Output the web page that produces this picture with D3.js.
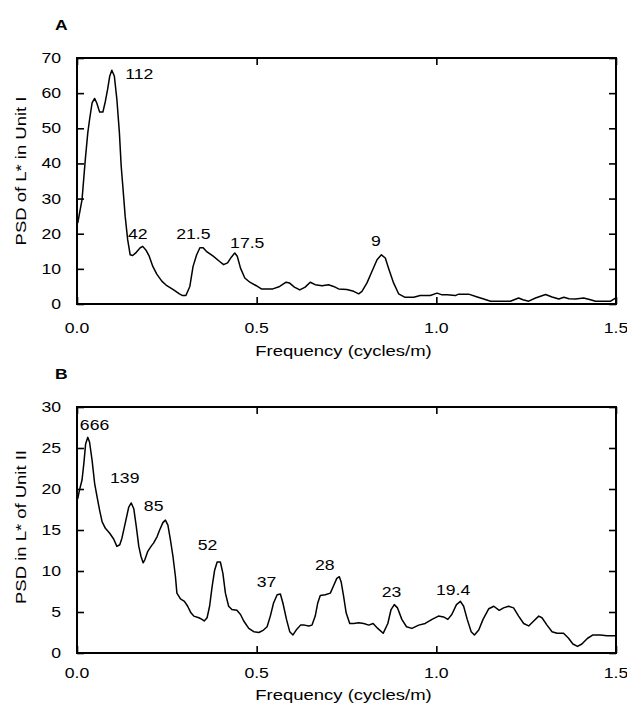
<!DOCTYPE html>
<html>
<head>
<meta charset="utf-8">
<script src="https://cdn.jsdelivr.net/npm/d3@7"></script>
<style>
  body { margin: 0; background: #fff; }
  svg { display: block; font-family: "Liberation Sans", Arial, sans-serif; }
</style>
</head>
<body>
<div id="chart"></div>
<script>
var width = 627;
var height = 705;

// Panel A - PSD of L* in Unit I
var freqA = [0.002, 0.014, 0.023, 0.030, 0.035, 0.042, 0.049, 0.055, 0.063, 0.072, 0.079, 0.085, 0.091, 0.097,
  0.104, 0.111, 0.118, 0.123, 0.129, 0.134, 0.141, 0.148, 0.155, 0.165, 0.176, 0.183, 0.192, 0.201, 0.211,
  0.222, 0.236, 0.250, 0.268, 0.285, 0.294, 0.303, 0.314, 0.323, 0.333, 0.342, 0.351, 0.360, 0.379, 0.397,
  0.408, 0.419, 0.430, 0.439, 0.446, 0.455, 0.467, 0.481, 0.499, 0.513, 0.545, 0.564, 0.582, 0.591, 0.605,
  0.620, 0.635, 0.649, 0.663, 0.682, 0.700, 0.714, 0.728, 0.751, 0.770, 0.784, 0.793, 0.807, 0.821, 0.835,
  0.847, 0.858, 0.867, 0.881, 0.895, 0.913, 0.937, 0.955, 0.983, 1.002, 1.016, 1.030, 1.053, 1.062, 1.090,
  1.114, 1.132, 1.151, 1.206, 1.229, 1.241, 1.257, 1.276, 1.304, 1.322, 1.341, 1.355, 1.369, 1.387, 1.410,
  1.429, 1.443, 1.485, 1.494, 1.500];
var psdA = [23, 29.7, 41, 48.7, 52.5, 57.2, 58.5, 57.2, 54.6, 54.6, 57.7, 61, 64.8, 66.5,
  64.8, 58.2, 48.7, 39.2, 31.6, 25, 18.3, 14, 13.8, 14.7, 16, 16.4, 15.3, 13.6, 10.7,
  8.5, 6.5, 5.2, 4.1, 2.9, 2.4, 2.4, 5, 10.7, 14, 16, 16, 15, 13.6, 12.1,
  11.2, 11.7, 13.4, 14.5, 13.6, 10.2, 7.4, 6.2, 5.2, 4.3, 4.3, 5, 6.2, 6, 4.8,
  4.0, 4.8, 6.2, 5.5, 5.2, 5.5, 5, 4.3, 4.1, 3.6, 2.9, 3.6, 6, 9.3, 12.6,
  14, 13.1, 10.2, 6, 2.9, 1.9, 1.9, 2.4, 2.4, 3.1, 2.6, 2.6, 2.4, 2.8, 2.8,
  2.0, 1.4, 0.8, 0.8, 1.7, 1.2, 0.8, 1.7, 2.7, 2.0, 1.4, 1.9, 1.5, 1.4, 1.7,
  1.2, 0.8, 0.8, 1.4, 1.7];

// Panel B - PSD in L* of Unit II
var freqB = [0.002, 0.007, 0.014, 0.019, 0.024, 0.030, 0.035, 0.042, 0.049, 0.056, 0.063, 0.070, 0.079, 0.091,
  0.102, 0.111, 0.119, 0.125, 0.135, 0.144, 0.151, 0.158, 0.165, 0.172, 0.178, 0.184, 0.189, 0.197, 0.206,
  0.213, 0.223, 0.230, 0.239, 0.246, 0.253, 0.260, 0.267, 0.274, 0.278, 0.288, 0.299, 0.308, 0.317, 0.325,
  0.339, 0.348, 0.354, 0.362, 0.369, 0.376, 0.383, 0.390, 0.399, 0.406, 0.413, 0.422, 0.431, 0.445, 0.455,
  0.464, 0.478, 0.492, 0.506, 0.519, 0.529, 0.538, 0.547, 0.557, 0.566, 0.573, 0.583, 0.592, 0.601, 0.610,
  0.622, 0.633, 0.645, 0.654, 0.663, 0.670, 0.677, 0.691, 0.705, 0.714, 0.723, 0.730, 0.735, 0.742, 0.749,
  0.759, 0.770, 0.784, 0.798, 0.812, 0.824, 0.837, 0.852, 0.865, 0.874, 0.883, 0.892, 0.904, 0.917, 0.932,
  0.951, 0.969, 0.988, 1.006, 1.020, 1.032, 1.043, 1.056, 1.067, 1.076, 1.086, 1.097, 1.106, 1.118, 1.130,
  1.146, 1.160, 1.175, 1.187, 1.201, 1.215, 1.229, 1.243, 1.257, 1.271, 1.285, 1.294, 1.308, 1.322, 1.336,
  1.354, 1.368, 1.380, 1.393, 1.405, 1.421, 1.436, 1.456, 1.475, 1.500];
var psdB = [18.8, 19.9, 21.1, 23.1, 25.5, 26.3, 25.7, 23.5, 20.7, 19, 17.4, 16, 15.2, 14.6,
  13.9, 13, 13.2, 14, 16, 17.8, 18.3, 17.6, 15.4, 13, 11.8, 11, 11.4, 12.4, 13,
  13.4, 14.2, 15, 15.9, 16.2, 15.6, 13.8, 11.8, 9.3, 7.3, 6.6, 6.3, 5.7, 4.9, 4.5,
  4.3, 4.1, 3.9, 4.3, 5.7, 8.1, 10.1, 11.1, 11.1, 9.7, 7.3, 5.7, 5.3, 5.2, 4.7,
  3.9, 3.0, 2.6, 2.5, 2.8, 3.2, 4.5, 6.1, 7.1, 7.2, 6.1, 4.1, 2.6, 2.2, 2.8,
  3.4, 3.4, 3.3, 3.4, 4.5, 6.1, 7.0, 7.1, 7.3, 8.2, 9.1, 9.3, 8.7, 6.9, 4.9,
  3.6, 3.6, 3.7, 3.6, 3.4, 3.6, 3.0, 2.4, 3.6, 5.3, 5.9, 5.5, 4.1, 3.2, 3.0,
  3.4, 3.6, 4.1, 4.5, 4.4, 4.1, 4.7, 5.9, 6.3, 5.7, 4.1, 2.6, 2.2, 2.8, 4.1,
  5.4, 5.7, 5.2, 5.5, 5.7, 5.5, 4.5, 3.6, 3.3, 3.9, 4.5, 4.3, 3.4, 2.6, 2.4,
  2.4, 1.8, 1.1, 0.8, 1.1, 1.8, 2.2, 2.2, 2.1, 2.1];

// peak annotations (text, frequency and psd of the label's lower-left corner)
var labelsA = ["112", "42", "21.5", "17.5", "9"];
var labelFreqA = [0.134, 0.142, 0.276, 0.426, 0.818];
var labelPsdA = [64, 18.5, 18.5, 15.9, 16.5];

var labelsB = ["666", "139", "85", "52", "37", "28", "23", "19.4"];
var labelFreqB = [0.008, 0.092, 0.186, 0.336, 0.500, 0.662, 0.848, 0.999];
var labelPsdB = [27.2, 20.7, 17.3, 12.6, 8.1, 10.1, 6.8, 7.1];

var freqTicks = [0, 0.5, 1.0, 1.5];
var psdTicksA = [0, 10, 20, 30, 40, 50, 60, 70];
var psdTicksB = [0, 5, 10, 15, 20, 25, 30];

var svg = d3.select("#chart").append("svg")
  .attr("width", width)
  .attr("height", height);

// the original lettering is wide, so stretch text horizontally
var numStretch = 1.26;
var titleStretch = 1.32;

function drawPanel(cfg) {
  var x = d3.scaleLinear().domain([0, 1.5]).range([77, 616]);
  var y = d3.scaleLinear().domain([0, cfg.yMax]).range([cfg.bottom, cfg.top]);
  var g = svg.append("g");

  // inward ticks on all four sides
  g.append("g")
    .attr("transform", "translate(0," + cfg.bottom + ")")
    .call(d3.axisBottom(x).tickValues(freqTicks).tickSizeInner(-7).tickSizeOuter(0).tickFormat(""));
  g.append("g")
    .attr("transform", "translate(0," + cfg.top + ")")
    .call(d3.axisTop(x).tickValues(freqTicks).tickSizeInner(-7).tickSizeOuter(0).tickFormat(""));
  g.append("g")
    .attr("transform", "translate(77,0)")
    .call(d3.axisLeft(y).tickValues(cfg.yTicks).tickSizeInner(-7).tickSizeOuter(0).tickFormat(""));
  g.append("g")
    .attr("transform", "translate(616,0)")
    .call(d3.axisRight(y).tickValues(cfg.yTicks).tickSizeInner(-7).tickSizeOuter(0).tickFormat(""));
  g.selectAll(".tick line").attr("stroke", "#000").attr("stroke-width", 1.6);
  g.selectAll(".domain").remove();

  // frame
  g.append("rect")
    .attr("x", x(0))
    .attr("y", y(cfg.yMax))
    .attr("width", x(1.5) - x(0))
    .attr("height", y(0) - y(cfg.yMax))
    .attr("fill", "none")
    .attr("stroke", "#000")
    .attr("stroke-width", 2);

  // tick labels
  g.selectAll("text.ylab")
    .data(cfg.yTicks)
    .enter()
    .append("text")
    .attr("class", "ylab")
    .attr("transform", d => "translate(61," + (y(d) + 5) + ") scale(" + numStretch + ",1)")
    .attr("text-anchor", "end")
    .style("font-size", "14px")
    .text(d => d);

  g.selectAll("text.xlab")
    .data(freqTicks)
    .enter()
    .append("text")
    .attr("class", "xlab")
    .attr("transform", d => "translate(" + x(d) + "," + (cfg.bottom + cfg.tickLabelGap) + ") scale(" + numStretch + ",1)")
    .attr("text-anchor", "middle")
    .style("font-size", "14px")
    .text(d => d.toFixed(1));

  // axis titles
  g.append("text")
    .attr("transform", "translate(" + ((x(0) + x(1.5)) / 2 - 3) + "," + (cfg.bottom + cfg.titleGap) + ") scale(" + titleStretch + ",1)")
    .attr("text-anchor", "middle")
    .style("font-size", "14px")
    .text("Frequency (cycles/m)");

  g.append("text")
    .attr("transform", "translate(26," + cfg.yTitleMid + ") rotate(-90) scale(" + titleStretch + ",1)")
    .attr("text-anchor", "middle")
    .style("font-size", "14px")
    .text(cfg.yTitle);

  // panel letter
  g.append("text")
    .attr("transform", "translate(55," + cfg.letterY + ") scale(1.25,1)")
    .style("font-size", "14px")
    .style("font-weight", "bold")
    .text(cfg.letter);

  // spectrum
  var line = d3.line()
    .x(d => x(d[0]))
    .y(d => y(d[1]));

  g.append("path")
    .datum(d3.zip(cfg.freq, cfg.psd))
    .attr("d", line)
    .attr("fill", "none")
    .attr("stroke", "#000")
    .attr("stroke-width", 1.5)
    .attr("stroke-linejoin", "round");

  // peak period labels
  g.selectAll("text.peak")
    .data(d3.zip(cfg.labels, cfg.labelFreq, cfg.labelPsd))
    .enter()
    .append("text")
    .attr("class", "peak")
    .attr("transform", d => "translate(" + x(d[1]) + "," + y(d[2]) + ") scale(" + numStretch + ",1)")
    .style("font-size", "14px")
    .text(d => d[0]);
}

drawPanel({
  letter: "A", letterY: 30,
  top: 58, bottom: 304, yMax: 70, yTicks: psdTicksA,
  tickLabelGap: 29, titleGap: 52,
  yTitle: "PSD of L* in Unit I", yTitleMid: 171,
  freq: freqA, psd: psdA,
  labels: labelsA, labelFreq: labelFreqA, labelPsd: labelPsdA
});

drawPanel({
  letter: "B", letterY: 379,
  top: 407, bottom: 653, yMax: 30, yTicks: psdTicksB,
  tickLabelGap: 25, titleGap: 47,
  yTitle: "PSD in L* of Unit II", yTitleMid: 527,
  freq: freqB, psd: psdB,
  labels: labelsB, labelFreq: labelFreqB, labelPsd: labelPsdB
});
</script>
</body>
</html>
